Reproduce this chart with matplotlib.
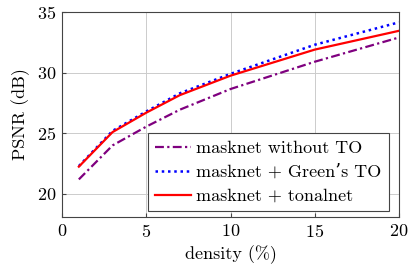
import matplotlib
matplotlib.use("Agg")
import matplotlib.pyplot as plt

density = [1, 3, 5, 7, 10, 15, 20]
psnr_without = [21.2, 24.0, 25.55, 26.95, 28.65, 30.9, 32.9]
psnr_green = [22.3, 25.2, 26.8, 28.3, 29.9, 32.3, 34.15]
psnr_tonal = [22.25, 25.1, 26.7, 28.15, 29.75, 31.9, 33.45]
labels = ["masknet without TO", "masknet + Green\u2019s TO", "masknet + tonalnet"]

plt.rcParams['font.family'] = ['cmr10', 'DejaVu Serif']
plt.rcParams['mathtext.fontset'] = 'cm'
plt.rcParams['axes.formatter.use_mathtext'] = True

fig = plt.figure(figsize=(4.15, 2.74), dpi=100)
ax = fig.add_axes([62/415, 1-217/274, (399-62)/415, (217-12)/274])

ax.plot(density, psnr_without, color='#7f007f', linestyle=(0, (4, 1.5, 1, 1.5)), lw=1.6, label=labels[0])
ax.plot(density, psnr_green, color='#0000ff', linestyle=(0, (1, 1.5)), lw=1.8, label=labels[1])
ax.plot(density, psnr_tonal, color='#ff0000', linestyle='-', lw=1.6, label=labels[2])

ax.set_xlim(0, 20)
ax.set_ylim(18.1, 35)
ax.set_xticks([0, 5, 10, 15, 20])
ax.set_yticks([20, 25, 30, 35])
ax.grid(True, color='#cccccc', lw=0.7)
ax.set_axisbelow(True)
ax.tick_params(direction='in', length=3, labelsize=13, color='#444444', pad=4)
for s in ax.spines.values():
    s.set_color('#444444')
    s.set_linewidth(0.8)
ax.set_xlabel('density (%)', fontsize=13, labelpad=4)
ax.set_ylabel('PSNR (dB)', fontsize=13, labelpad=5)

leg = ax.legend(loc='lower right', bbox_to_anchor=(0.970, 0.029), fontsize=13,
                fancybox=False, framealpha=1,
                edgecolor='#444444', borderpad=0.4, labelspacing=0.45,
                handlelength=2.0, handletextpad=0.3, borderaxespad=0.0)
leg.get_frame().set_linewidth(0.8)

fig.savefig('out.png', dpi=100)
